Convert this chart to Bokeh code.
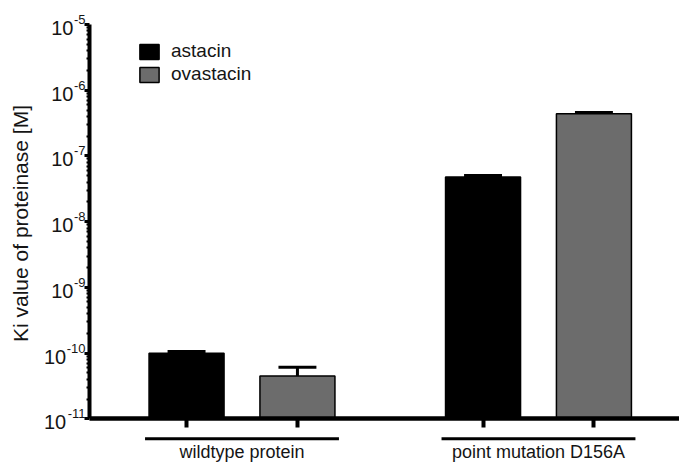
import math
import numpy as np
from bokeh.plotting import figure
from bokeh.models import Range1d, FixedTicker, CustomJSTickFormatter, Legend, LegendItem
from bokeh.core.properties import value
from bokeh.embed import file_html
from bokeh.resources import INLINE

# ---- data ----
groups = ["wildtype protein", "point mutation D156A"]
series = ["astacin", "ovastacin"]
astacin = [1.0e-10, 4.8e-8]
astacin_err = [0.06e-10, 0.25e-8]
ovastacin = [4.5e-11, 4.4e-7]
ovastacin_err = [1.6e-11, 0.2e-7]
y_ticks = [1e-11, 1e-10, 1e-9, 1e-8, 1e-7, 1e-6, 1e-5]
y_label = "Ki value of proteinase [M]"
colors = ["#000000", "#6c6c6c"]

FONT = "Liberation Sans"
TXT = "#151515"
base = y_ticks[0]

# ---- layout ----
W, H = 679, 467
x_start, x_end = 0.1855, 2.4756
ly_top, ly_bot = -4.635, -11.74
AXIS_X = 0.4857
px_x = W / (x_end - x_start)
px_dec = H / (ly_top - ly_bot)


def fx(px):
    return x_start + px / px_x


def fy(py):
    return 10 ** (ly_top - py / px_dec)


gx = np.arange(1, len(groups) + 1, dtype=float)
off = 0.187
bw = 0.253
cap = 0.064

p = figure(width=W, height=H, y_axis_type="log",
           x_range=Range1d(x_start, x_end), y_range=Range1d(10 ** ly_bot, 10 ** ly_top),
           output_backend="svg", toolbar_location=None,
           min_border_top=0, min_border_bottom=0, min_border_right=0, min_border_left=0)
p.background_fill_color = "white"
p.border_fill_color = "white"
p.outline_line_color = None
p.xgrid.visible = False
p.ygrid.visible = False

# bars
renderers = []
bar_x = []
for vals, errs, col, dx in [(astacin, astacin_err, colors[0], -off), (ovastacin, ovastacin_err, colors[1], off)]:
    xs = gx + dx
    bar_x.extend(xs.tolist())
    r = p.vbar(x=xs, top=vals, bottom=base, width=bw, fill_color=col, line_color="black", line_width=1.5)
    renderers.append(r)
    tops = np.array(vals) + np.array(errs)
    p.segment(x0=xs, y0=vals, x1=xs, y1=tops, line_color="black", line_width=3)
    p.segment(x0=xs - cap, y0=tops, x1=xs + cap, y1=tops, line_color="black", line_width=3)

# x axis: crossing at the bottom decade, ticks under each bar
xax = p.xaxis[0]
xax.fixed_location = base
xax.bounds = (AXIS_X, x_end)
xax.ticker = FixedTicker(ticks=sorted(bar_x), minor_ticks=[])
xax.formatter = CustomJSTickFormatter(code='return "";')
xax.axis_line_width = 4.5
xax.major_tick_line_width = 4
xax.major_tick_out = 9
xax.major_tick_in = 0
xax.minor_tick_line_color = None
xax.major_label_text_font_size = "1px"

# y axis
yax = p.yaxis[0]
yax.fixed_location = AXIS_X
minor = [d * m for d in y_ticks[:-1] for m in range(2, 10)]
yax.ticker = FixedTicker(ticks=y_ticks, minor_ticks=minor)
yax.formatter = CustomJSTickFormatter(code='return "";')
yax.bounds = (y_ticks[0], y_ticks[-1])
yax.axis_line_width = 4
yax.major_tick_line_width = 3
yax.major_tick_out = 5
yax.major_tick_in = 0
yax.minor_tick_line_width = 2
yax.minor_tick_out = 3
yax.minor_tick_in = 0
yax.major_label_text_font_size = "1px"

# y tick labels: "10" with a raised exponent
EXP_SIZE = 13
cw = {"-": 0.333}
exps = [str(int(round(math.log10(t)))) for t in y_ticks]
exp_w = [sum(cw.get(c, 0.556) for c in e) * EXP_SIZE for e in exps]
p.text(x=[fx(85)] * len(y_ticks), y=[t * 10 ** (5 / px_dec) for t in y_ticks], text=exps,
       text_align="right", text_baseline="middle", text_font=value(FONT),
       text_font_size=f"{EXP_SIZE}px", text_color=TXT)
p.text(x=[fx(85 - w - 0.5) for w in exp_w], y=[t * 10 ** (-3.5 / px_dec) for t in y_ticks],
       text=["10"] * len(y_ticks), text_align="right", text_baseline="middle", text_font=value(FONT),
       text_font_size="20px", text_color=TXT)

# y axis title
p.text(x=[fx(20)], y=[fy(223)], text=[y_label], angle=math.pi / 2, text_align="center",
       text_baseline="middle", text_font=value(FONT), text_font_size="21px", text_color=TXT)

# group underlines and labels
ul = 10 ** (math.log10(base) - 20 / px_dec)
p.segment(x0=gx - 0.327, x1=gx + 0.327, y0=[ul] * len(gx), y1=[ul] * len(gx),
          line_color="black", line_width=3)
p.text(x=gx, y=[fy(451)] * len(gx), text=groups, text_align="center", text_baseline="middle",
       text_font=value(FONT), text_font_size="18px", text_color=TXT)

legend = Legend(items=[LegendItem(label=s, renderers=[r]) for s, r in zip(series, renderers)],
                location=(137, 382), padding=0, margin=0, spacing=1,
                glyph_width=24, glyph_height=19, label_standoff=10,
                label_text_font=FONT, label_text_font_size="19px", label_text_color=TXT,
                label_text_baseline="middle",
                border_line_color=None, background_fill_alpha=0)
p.add_layout(legend)

open("out.html", "w", encoding="utf-8").write(file_html(p, INLINE))
